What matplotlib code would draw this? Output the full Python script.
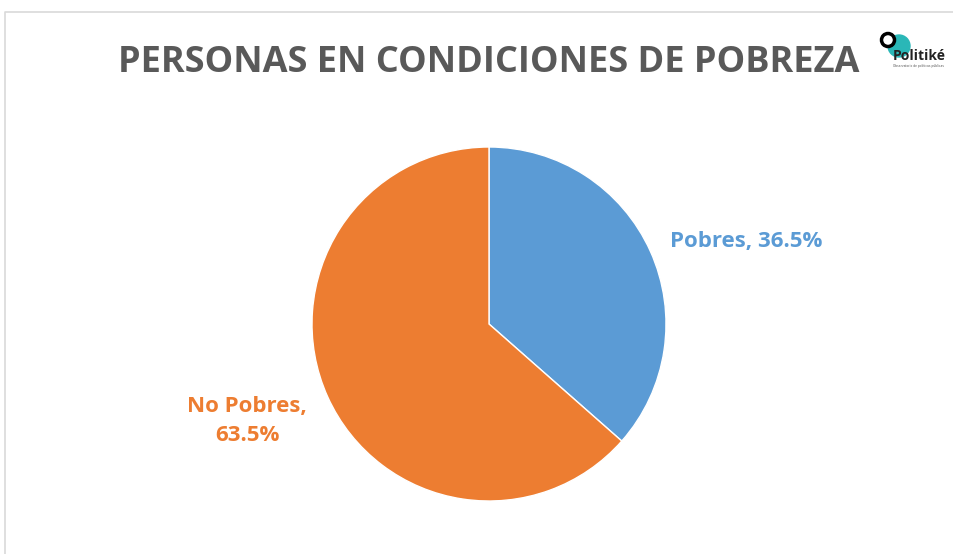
import matplotlib.pyplot as plt
from matplotlib.patches import Circle

# Datos
categorias = ['Pobres', 'No Pobres']
valores = [36.5, 63.5]
colores = ['#5B9BD5', '#ED7D31']
titulo = 'PERSONAS EN CONDICIONES DE POBREZA'

W, H = 954, 554
fig = plt.figure(figsize=(W / 100, H / 100), dpi=100)
ax = fig.add_axes([0, 0, 1, 1])

# Torta
cx, cy, r = 489, H - 324, 177
ax.pie(valores, colors=colores, startangle=90, counterclock=False,
       center=(cx, cy), radius=r, frame=True,
       wedgeprops=dict(edgecolor='white', linewidth=1))
ax.set_xlim(0, W)
ax.set_ylim(0, H)
ax.set_aspect('equal')
ax.axis('off')

# marco gris
ax.plot([5, 5, W + 5], [0, H - 12, H - 12], color='#d9d9d9', lw=1.2)

# Etiquetas
ax.text(746, H - 241, f'{categorias[0]}, {valores[0]}%', color=colores[0],
        fontsize=16, fontweight='bold', family='Open Sans', ha='center', va='center')
ax.text(247, H - 421, f'{categorias[1]},\n{valores[1]}%', color=colores[1],
        fontsize=16, fontweight='bold', family='Open Sans', ha='center', va='center',
        linespacing=1.5)

# Titulo
ax.text(489, H - 63, titulo, color='#595959', fontsize=26, fontweight='bold',
        family='Open Sans', ha='center', va='center')

# Logo
ax.add_patch(Circle((899, H - 46), 11, color='#2ab7b7', zorder=3))
ax.add_patch(Circle((888, H - 40), 6.5, facecolor='white', edgecolor='black', lw=2.5, zorder=4))
ax.text(919, H - 56, 'Politiké', fontsize=10, fontweight='bold', color='#222222',
        family='Open Sans', ha='center', va='center', zorder=5)
ax.text(919, H - 66, 'Observatorio de políticas públicas', fontsize=2.2, color='#555555',
        ha='center', va='center', zorder=5)

fig.savefig('out.png', dpi=100)
